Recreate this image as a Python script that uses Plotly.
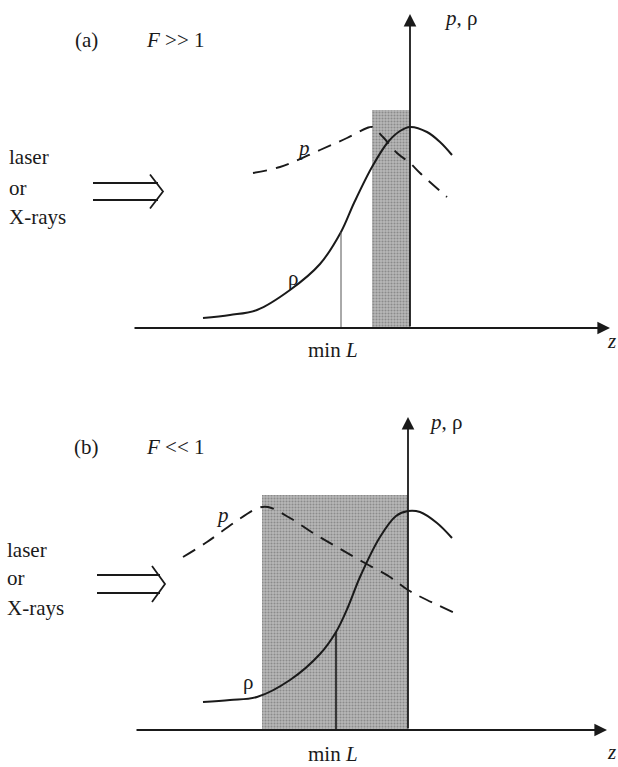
import numpy as np
import plotly.graph_objects as go

W, H = 618, 767
PX = 10.0  # pixels per diagram unit (both directions)

# ---------------- panel (a): F >> 1 ----------------
rho_a_z = [-20.7, -18.0, -15.3, -12.0, -9.0, -6.9, -5.6, -3.8, -2.2, -1.0, 0.0, 1.7, 3.0, 4.2]
rho_a_v = [1.0, 1.3, 1.8, 3.8, 6.4, 9.6, 12.5, 16.1, 18.6, 19.7, 20.1, 19.6, 18.6, 17.3]
p_a_z = [-15.7, -13.0, -9.0, -6.3, -4.3, -3.8, -2.7, -1.3, 0.0, 1.0, 3.7]
p_a_v = [15.5, 16.1, 17.8, 19.0, 20.0, 20.1, 19.1, 17.5, 16.5, 15.5, 13.1]
slab_a = [-3.8, 0.0]
slab_a_top = 21.8
minL_a = -6.9

# ---------------- panel (b): F << 1 ----------------
rho_b_z = [-20.5, -17.8, -15.1, -11.8, -8.8, -7.2, -6.0, -4.8, -2.8, -1.2, 0.0, 1.2, 2.9, 4.4]
rho_b_v = [2.8, 3.0, 3.3, 5.0, 7.6, 9.8, 12.3, 15.3, 19.3, 21.4, 21.9, 21.8, 20.7, 19.2]
p_b_z = [-22.5, -20.1, -17.3, -15.0, -14.0, -11.8, -9.5, -7.1, -4.5, -1.8, 0.0, 1.9, 4.7]
p_b_v = [17.3, 18.8, 20.8, 22.2, 22.3, 21.2, 19.7, 18.3, 16.8, 15.3, 14.0, 13.0, 11.7]
slab_b = [-14.6, 0.0]
slab_b_top = 23.5
minL_b = -7.2

panel_titles = ["(a)", "(b)"]
panel_conditions = ["<i>F</i> &gt;&gt; 1", "<i>F</i> &lt;&lt; 1"]
source_lines = ["laser", "or", "X-rays"]

FONT = "Liberation Serif"
FS = 21
INK = "#1a1a1a"

fig = go.Figure()

panels = [
    dict(ox=410, oy=328, top=0, bot=380, sfx="", z0=-27.7, z1=20.0, vtop=31.4,
         rz=rho_a_z, rv=rho_a_v, pz=p_a_z, pv=p_a_v, slab=slab_a, stop=slab_a_top,
         minL=minL_a, lw_min=1.0, min_col="#555555",
         title_xy=(-32.4, 28.8), cond_x=-26.6, lab_y=[17.1, 14.0, 11.1],
         arr=(-31.7, -24.7, 13.65, 1.7), pr_xy=(3.2, 31.0), p_xy=(-10.7, 18.0),
         r_xy=(-11.7, 5.0), minL_xy=(-7.7, -2.2), z_xy=(20.75, -1.3)),
    dict(ox=408, oy=730, top=380, bot=767, sfx="2", z0=-27.3, z1=19.9, vtop=31.3,
         rz=rho_b_z, rv=rho_b_v, pz=p_b_z, pv=p_b_v, slab=slab_b, stop=slab_b_top,
         minL=minL_b, lw_min=1.6, min_col=INK,
         title_xy=(-32.2, 28.3), cond_x=-26.4, lab_y=[18.0, 15.2, 12.2],
         arr=(-31.1, -24.3, 14.6, 1.8), pr_xy=(1.9, 30.8), p_xy=(-18.6, 21.5),
         r_xy=(-16.0, 4.8), minL_xy=(-7.5, -2.35), z_xy=(20.95, -2.2)),
]

annotations = []
for i, P in enumerate(panels):
    xa, ya = "x" + P["sfx"], "y" + P["sfx"]

    # shaded slab
    lo, hi = P["slab"]
    fig.add_trace(go.Bar(
        x=[(lo + hi) / 2], y=[P["stop"]], width=[hi - lo], base=0,
        marker=dict(color="#a6a6a6", line=dict(width=0),
                    pattern=dict(shape=".", fgcolor="#5e5e5e", bgcolor="#b8b8b8",
                                 size=3, solidity=0.4, fillmode="overlay")),
        xaxis=xa, yaxis=ya, showlegend=False, hoverinfo="skip"))

    # density profile
    fig.add_trace(go.Scatter(
        x=P["rz"], y=P["rv"], mode="lines",
        line=dict(color=INK, width=2.0, shape="spline", smoothing=1.0),
        xaxis=xa, yaxis=ya, showlegend=False, hoverinfo="skip"))

    # pressure profile
    fig.add_trace(go.Scatter(
        x=P["pz"], y=P["pv"], mode="lines",
        line=dict(color=INK, width=1.9, dash="14px,9px", shape="spline", smoothing=1.0),
        xaxis=xa, yaxis=ya, showlegend=False, hoverinfo="skip"))

    # marker line at the minimum density scale length
    h = float(np.interp(P["minL"], P["rz"], P["rv"]))
    fig.add_trace(go.Scatter(
        x=[P["minL"], P["minL"]], y=[0, h], mode="lines",
        line=dict(color=P["min_col"], width=P["lw_min"]),
        xaxis=xa, yaxis=ya, showlegend=False, hoverinfo="skip"))

    # incoming radiation: double-shafted arrow
    x0, xt, yc, g = P["arr"]
    hl = 1.3
    fig.add_trace(go.Scatter(
        x=[x0, xt - 0.5, None, x0, xt - 0.5, None, xt - hl, xt, xt - hl],
        y=[yc + g / 2, yc + g / 2, None, yc - g / 2, yc - g / 2, None,
           yc + g, yc, yc - g],
        mode="lines", line=dict(color=INK, width=1.8),
        xaxis=xa, yaxis=ya, showlegend=False, hoverinfo="skip"))

    # coordinate axes with arrowheads
    for (tx, ty, sx, sy) in [(P["z1"], 0, P["z0"], 0), (0, P["vtop"], 0, 0)]:
        annotations.append(dict(
            x=tx, y=ty, ax=sx, ay=sy, xref=xa, yref=ya, axref=xa, ayref=ya,
            text="", showarrow=True, arrowhead=2, arrowsize=1.4,
            arrowwidth=1.8, arrowcolor=INK))

    def txt(x, y, s, anchor="left", size=FS):
        annotations.append(dict(
            x=x, y=y, xref=xa, yref=ya, text=s, showarrow=False,
            xanchor=anchor, yanchor="middle",
            font=dict(family=FONT, size=size, color=INK)))

    txt(*P["title_xy"], panel_titles[i], anchor="center")
    txt(P["cond_x"], P["title_xy"][1], panel_conditions[i])
    for s, y in zip(source_lines, P["lab_y"]):
        txt(-40.3, y, s)
    txt(*P["pr_xy"], "<i>p</i>, ρ")
    txt(*P["p_xy"], "<i>p</i>", anchor="center")
    txt(*P["r_xy"], "ρ", anchor="center")
    txt(*P["minL_xy"], "min <i>L</i>", anchor="center")
    txt(*P["z_xy"], "<i>z</i>", anchor="right")

layout_axes = {}
for P in panels:
    ox, oy, top, bot = P["ox"], P["oy"], P["top"], P["bot"]
    xr = [-ox / PX, (W - ox) / PX]
    yr = [-(bot - oy) / PX, (oy - top) / PX]
    dom = [1 - bot / H, 1 - top / H]
    sfx = P["sfx"]
    layout_axes["xaxis" + sfx] = dict(range=xr, domain=[0, 1], visible=False,
                                      fixedrange=True, anchor="y" + sfx)
    layout_axes["yaxis" + sfx] = dict(range=yr, domain=dom, visible=False,
                                      fixedrange=True, anchor="x" + sfx)

fig.update_layout(
    width=W, height=H,
    margin=dict(l=0, r=0, t=0, b=0),
    paper_bgcolor="white", plot_bgcolor="white",
    showlegend=False, bargap=0,
    annotations=annotations,
    **layout_axes,
)

fig.write_html("out.html")
